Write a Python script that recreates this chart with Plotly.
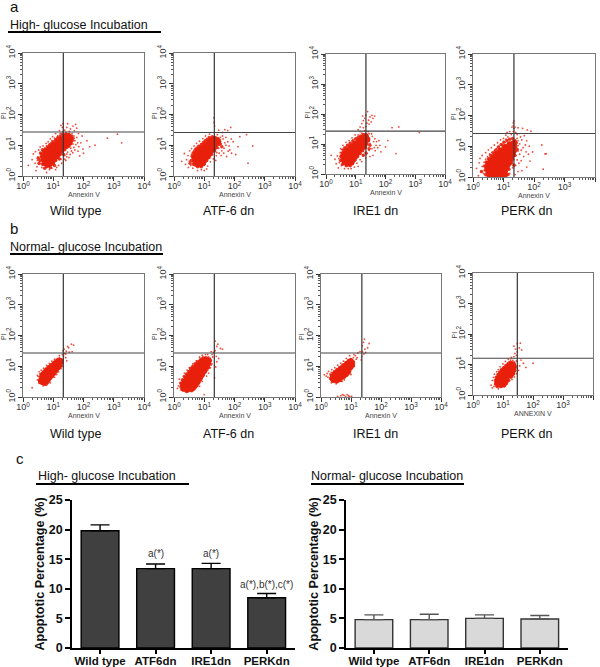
import plotly.graph_objects as go

W, H = 600, 667
RED = "#e8200c"

# ---------- flow cytometry data (Annexin V, PI) ----------
A1_CORE = [(5.5,2.6),(7,2.4),(8.5,2.7),(5,3.3),(6.3,3.1),(8,3.2),(10,3.4),(4.8,4.1),(6,4),(7.8,4.2),(9.8,4.1),(12,4.3),(5.6,5.1),(7.2,5.2),(9,5),(11.5,5.3),(14,5.2),(6.5,6.4),(8.4,6.2),(10.5,6.5),(13,6.3),(16.5,6.6),(8,7.8),(10,8),(12.6,8.2),(16,8),(19.5,8.3),(10.5,9.8),(13,10.2),(16.5,10),(21,10.3),(26,10),(14,12.6),(17.5,12.4),(21.5,13),(27,12.5),(33,12),(18,15.5),(23,16),(29,15.8),(36,15),(25,19.5),(31,19)]
A1_MID = [(3.6,3.2),(4,4.2),(4.2,5.3),(4.8,6.6),(5.5,7.6),(6.5,8.8),(7.5,10),(8.8,11.5),(10,13),(12,15),(14,17.5),(17,20),(20,23),(10,2.6),(12,3.2),(14.5,4),(17,5),(20,6.2),(24,7.2),(28,8.5),(33,9.5),(38,11.5),(42,14),(6,2),(8,1.9),(4.4,2.4),(45,17),(40,20),(34,22),(28,22.5),(3.4,2.6),(3.2,3.8),(3.8,5.6),(4.4,7.2),(11,2.2),(16,3.6),(22,5),(5.2,1.8)]
A1_FRINGE = [(3,3.2),(3.4,2.4),(3.8,5),(4.2,1.9),(4.5,6.3),(5.2,8),(6,9.5),(7.5,11),(2.2,5.2),(2.7,1.5),(3.1,4.2),(9,14),(11,17),(14,20),(17,24),(21,28),(12,1.6),(15,2.2),(9,1.8),(18,3.5),(24,4.6),(30,6),(38,8),(45,11),(52,14),(60,18),(42,24),(34,28),(24,31),(28,38),(37,34),(45,42),(55,48),(60,36),(50,30),(30,50),(20,38),(21,50),(18,44),(616,17),(1320,23),(1830,12),(240,10),(100,5.5),(130,14),(90,20),(160,9),(75,4.5),(70,9),(1.5,2.2),(2,3.4),(6,1.3),(7.5,1.6),(26,3.2),(33,4),(44,5.7),(48,8.5),(56,10.5),(40,6.5),(34,9),(43,17),(38,21),(32,24),(12,24),(16,30),(22,7),(28,5.2),(2.5,2.6),(2.6,6.2),(2.9,2),(3.3,7),(3.7,8.8),(4.6,9.5),(5.8,11.5),(6.8,13),(8,16),(9.5,19),(13,1.9),(19,2.6),(24,3.5),(28,4.2),(36,5),(52,7),(64,12),(68,24),(48,20),(26,26),(66,6.4),(82,12),(96,7.5)]

A2_CORE = [(5.5,2.5),(7,2.4),(8.8,2.6),(5,3.2),(6.3,3),(8,3.1),(10,3.3),(4.8,4),(6,4),(7.8,4.1),(9.8,4),(12,4.2),(5.4,5),(7,5.1),(8.8,5),(11,5.2),(13.5,5),(6.4,6.3),(8.2,6.1),(10.4,6.4),(13,6.2),(16,6.4),(8,7.9),(10,8),(12.6,8),(16,7.9),(20,8.2),(11,10),(14,10),(17.5,10),(22,10),(15,12.6),(19,12.4),(24,12.5),(18,14.5),(22,15),(28,13.5)]
A2_MID = [(3.7,3.2),(4,4.4),(4.3,5.6),(4.9,6.8),(5.6,8),(6.6,9.2),(8,10.6),(9.4,12.4),(11,14.2),(13,16),(15.5,17.6),(19,18.5),(23,18),(28,16.5),(32,13.5),(30,10.5),(26,8.5),(22,6.5),(17.5,5),(14.5,4),(12,3.2),(10,2.5),(8,2),(6,2),(4.4,2.4),(34,11),(38,9),(3.4,2.6)]
A2_FRINGE = [(3.2,3),(3.6,2.2),(3.8,5),(4.2,1.8),(4.4,6.2),(5,7.8),(2.2,5.4),(2.6,3.4),(3,1.9),(6.4,9.4),(8,11),(10,13.5),(12,16),(14,19),(18,20),(8,1.6),(10,1.5),(13,2.1),(16,2.9),(20,3.6),(25,4.6),(31,5.5),(38,6.6),(45,8),(52,10),(60,13),(42,16),(34,18),(70,7),(30,8),(33,11),(48,12),(26,5.8),(21,78),(21,55),(22,42),(48,32),(60,30),(75,38),(40,26),(30,31),(250,22),(400,9.5),(280,2.6),(150,19),(110,5),(130,9),(90,13),(80,5.5),(55,4.3),(1.8,3),(2.4,2.4),(2.9,4.6),(3.3,6.6),(3.8,7.8),(4.6,9.5),(5.6,11.5),(7,13.5),(9,16.5),(11,20),(15,23),(6,1.5),(12,1.7),(24,3.2),(36,4.6),(44,5.5),(62,6.4),(66,9.5),(78,16),(52,18),(40,20),(27,22)]

A3_CORE = [(4.4,2.5),(5.6,2.3),(7,2.4),(4,3),(5,3),(6.3,3),(8,3.1),(3.8,3.8),(4.8,3.8),(6,3.9),(7.6,3.9),(9.6,4),(4.3,4.8),(5.5,4.9),(7,4.9),(8.8,5),(11,5),(5,6.1),(6.5,6.2),(8.2,6.2),(10.4,6.3),(13,6.2),(7,7.8),(8.8,8),(11,7.9),(14,8),(17,8),(9.6,10),(12,10),(15,10),(19,10),(13,12.4),(16,12.6),(20,12.4),(16,15),(20,15.5),(24,14),(21,18)]
A3_MID = [(3.1,2.8),(3.2,3.9),(3.5,5),(3.9,6.4),(4.6,7.6),(5.4,9),(6.6,10.6),(8,12.6),(9.8,14.6),(12,16.6),(14.5,18.5),(18,20.5),(24,18),(26,13),(24,10),(21,7.6),(17,6),(14,4.8),(11.5,3.8),(9.6,3),(8,2.4),(6.5,1.9),(4.8,1.9),(3.6,2.1),(30,9),(28,7),(22,5),(18,4.2)]
A3_FRINGE = [(2.4,4),(2.8,2.4),(3,5.2),(3.3,1.9),(3.4,6.5),(4,7.8),(2,3.1),(1.5,4.2),(5,9.4),(6.2,11),(8,13.5),(10,16),(12,20),(16,23),(7,1.5),(9,1.7),(11,2.3),(14,3),(18,4),(24,4.8),(30,3.8),(38,4.2),(45,6),(55,7.5),(65,9),(70,5.5),(48,9),(35,7),(30,10.5),(40,12),(28,6.2),(14,37),(16,48),(18,60),(20,72),(22,91),(24,50),(27,62),(30,80),(33,55),(38,72),(43,85),(17,85),(22,38),(25,120),(166,35),(280,37),(1370,24),(225,4.8),(120,13),(100,8),(36,18),(28,22),(60,13),(12,30),(14,26),(2.6,1.6),(4.2,1.5),(2.2,2.2),(2.7,3.3),(3.1,7),(3.7,9),(4.7,11.4),(6,13),(7.5,16),(9.5,20),(5.6,1.5),(12,1.8),(16,2.6),(22,3.4),(42,7.6),(50,12),(44,15),(34,22),(26,26),(20,28),(18,35),(28,46),(35,90)]

A4_CORE = [(3.5,1.2),(4.5,1.1),(5.6,1.2),(7,1.1),(8.8,1.2),(11,1.2),(3.2,1.6),(4.2,1.6),(5.4,1.6),(6.8,1.6),(8.6,1.5),(11,1.6),(3,2.1),(3.9,2.1),(5,2),(6.3,2.1),(8,2),(10,2.1),(12.6,2.1),(3.2,2.7),(4.2,2.7),(5.5,2.6),(7,2.7),(9,2.6),(11.5,2.7),(14,2.7),(3.9,3.5),(5,3.4),(6.4,3.5),(8,3.4),(10,3.5),(12.6,3.4),(16,3.4),(4.8,4.4),(6.2,4.4),(8,4.5),(10,4.4),(13,4.5),(17,4.4),(6,5.6),(8,5.7),(10,5.6),(13,5.7),(17,5.6),(20,5.6),(8,7.2),(10,7.3),(13,7.2),(17,7.3),(20,7.2),(11,9.2),(14,9.3),(17.5,9.2),(21,9.4),(16,11.3),(20,11.5),(22,12.6)]
A4_MID = [(2.6,1.2),(2.5,1.7),(2.4,2.3),(2.7,3.1),(3.2,3.9),(3.8,5),(4.6,6.2),(5.6,7.6),(6.8,9.4),(8.4,11.4),(10.4,13.4),(13,15.5),(16,17),(20,18),(14,1.2),(15,1.8),(18,2.8),(20,3.8),(23,5),(25,7),(25,10),(26,13),(24,15),(28,8),(22,2.4),(1.9,1.5)]
A4_FRINGE = [(1.5,1.1),(1.8,1.5),(2,2.2),(2.2,1.3),(2.3,3),(2.6,3.8),(1.6,2.9),(1.3,1.9),(2.7,1.1),(3,4.6),(3.5,5.6),(4.2,6.3),(5,7.2),(6,8.3),(7.2,10),(8.8,11.6),(10,14),(12,17),(14,20),(18,24),(21,30),(22,38),(21,46),(21,57),(22,67),(19,42),(24,42),(30,40),(42,38),(60,34),(80,31),(16,30),(25,28),(28,18),(30,15),(34,12),(40,16),(48,22),(26,9),(30,7),(34,5.5),(28,3.6),(32,2.8),(25,2.4),(38,3.4),(46,4.6),(55,6.6),(66,5.5),(74,3.3),(58,2.1),(40,1.6),(30,1.5),(24,1.2),(16,1.3),(230,5.6),(250,5.7),(180,11),(200,1.8),(44,9),(38,7.4),(52,11),(26,5),(1.7,4),(2,5),(2.6,6.2),(3.2,7.6),(4,9),(5,11),(6.4,13),(8,16),(10,18),(12,23),(20,2),(30,10.5),(36,20),(58,15),(70,10),(90,6.5),(28,24),(13,28)]

B1_CORE = [(4,3.3),(5,3),(5.8,3.4),(4.4,3.9),(5.4,4),(6.6,4),(4.6,4.9),(5.6,4.9),(6.8,5),(8,4.9),(5.4,5.8),(6.6,6),(8,6),(9.4,6),(6.4,7.2),(7.8,7.2),(9.2,7.2),(11,7.2),(7.8,8.6),(9.4,8.6),(11,8.7),(12.6,8.6),(9.6,10.2),(11.4,10.3),(13.4,10.2),(15,10),(12,12.2),(14,12.4),(16,12),(15,14.4),(17,14.5)]
B1_MID = [(3.6,3.6),(3.8,4.6),(4.2,5.8),(4.9,6.8),(5.7,8),(6.8,9.4),(8.2,10.8),(9.8,12.4),(11.6,14),(13.4,16),(16,17),(18,13),(17.5,10.6),(15,8.4),(13,7),(11,5.6),(9.2,4.6),(7.6,3.8),(6.6,3),(5.2,2.6),(4.2,2.8)]
B1_FRINGE = [(3,3.6),(3.4,2.8),(3.2,4.6),(3.6,5.6),(4,2.7),(5.2,2.5),(6.4,2.6),(7.6,3.2),(8.6,3.9),(10,4.6),(11,5.6),(13,6.8),(14.6,8.2),(16.4,9.8),(18,11.6),(19,13.6),(4.4,6.5),(5,7.5),(5.8,8.6),(7,10),(8.6,11.6),(10,13.4),(12,15.6),(14,17.6),(2,2),(16,22),(20,24),(22,21),(24,26),(27,31),(23,36),(32,40),(40,52),(47,49),(42,30),(34,29),(26,19),(28,15),(21,16),(30,44),(3,5),(3.4,6.6),(4,7.4),(4.8,8.6),(6,10.6),(7.4,12.4),(9,14.6),(11,17),(4.6,2.3),(6,2.4),(8,2.9),(11,4.4),(13,5.4),(15,6.6),(18,8.4),(20,10),(21,12.4),(19,17.5),(16,19),(26,25),(21,32)]

B2_CORE = [(2.1,1.9),(2.7,1.8),(3.4,1.9),(4.2,2),(2,2.5),(2.6,2.5),(3.3,2.5),(4.1,2.6),(5.2,2.6),(2.3,3.2),(3,3.2),(3.8,3.3),(4.7,3.2),(6,3.2),(2.7,4),(3.4,4.1),(4.3,4),(5.4,4.1),(6.8,4),(3.2,5.1),(4,5),(5,5.1),(6.2,5.1),(7.6,5),(3.8,6.4),(4.7,6.3),(5.8,6.4),(7.2,6.4),(8.6,6.3),(4.6,8),(5.6,8),(7,8),(8.4,8),(10,8),(5.8,10),(7,10),(8.6,10),(10.4,10),(12,10),(7.6,12.5),(9.2,12.5),(11,12.5),(13,12.3),(9,15.5),(11,15.5),(13.5,15)]
B2_MID = [(1.7,2.1),(1.7,2.8),(1.9,3.6),(2.2,4.6),(2.6,5.6),(3.1,6.8),(3.6,8.4),(4.2,10),(5,12),(6,14),(7.4,16),(9.5,18.5),(12,18.5),(15,17),(15,12.5),(13,8.8),(11,6.8),(9.4,5.2),(7.8,4),(6.4,2.9),(5.2,2.1),(3.8,1.6),(2.6,1.5),(16,15)]
B2_FRINGE = [(1.4,2.3),(1.6,3),(1.7,1.7),(1.9,3.8),(2.1,4.6),(2.5,5.4),(3,6.7),(3.4,8),(4,9.6),(4.8,11.4),(5.6,13),(6.5,15),(7.4,18),(9,20),(11,20),(14,20),(16,18),(16,14),(17,11),(15,8.8),(13,7.4),(11,6),(9.4,4.6),(7.8,3.6),(6.6,2.7),(5.4,2.1),(4.3,1.6),(3,1.5),(2,1.6),(10,1.2),(18,24),(20,28),(23,32),(25,21),(26,44),(28,52),(23,66),(34,38),(40,36),(26,14),(24,9.5),(22,4.2),(30,18),(17,30),(1.3,1.9),(1.5,3.8),(2.2,6),(2.7,7.4),(3.2,9),(4.2,12),(5.4,15),(7,20),(8.5,23),(11,24),(13,24),(19,20),(18,12),(16,9),(14,6),(12,4.8),(8.6,3.2),(7,2.2)]

B3_CORE = [(2.5,3.9),(3.1,3.7),(3.8,3.8),(2.6,4.7),(3.2,4.6),(3.9,4.6),(4.8,4.6),(3,5.6),(3.7,5.6),(4.5,5.6),(5.5,5.6),(6.6,5.6),(3.7,6.8),(4.5,6.8),(5.5,6.8),(6.6,6.7),(7.8,6.6),(4.7,8.2),(5.7,8.2),(6.9,8.2),(8.2,8.2),(6.2,10),(7.3,10),(8.6,10),(9.8,10.2),(8,12),(9.4,12),(10.6,12),(9.6,14)]
B3_MID = [(2.1,4),(2.2,5),(2.6,5.9),(3.1,6.8),(3.8,8),(4.6,9.4),(5.6,11),(6.8,13),(8.2,15),(10,16.5),(11.6,14.5),(12,11),(10.4,8.8),(9,7),(7.4,5.6),(6,4.4),(4.6,3.6),(3.4,3.1),(2.5,3.2)]
B3_FRINGE = [(1.3,5.3),(1.6,5.8),(1.7,4.4),(2,4),(2,5.6),(2.2,6.3),(2.4,3.2),(2.9,3),(3.6,3.1),(4.4,3.3),(5.4,3.9),(6.5,4.6),(7.8,5.4),(9,6.6),(10.4,8),(11.6,9.6),(12.6,11.4),(13,13.6),(2.7,7.2),(3.3,8.4),(4,9.6),(5,11.4),(6.4,13.6),(7.8,15.5),(9.4,17),(11,16),(12,19),(14,22),(16,19),(15,17),(12.6,24),(17,27),(20,30),(23,21),(24,30),(27,25),(31,28),(29,36),(24,46),(26,60),(28,76),(36,40),(40,55),(22,16),(4.6,1.1),(5.2,1.2),(5.8,1.15),(6.6,1.05),(7.4,1.2),(8.2,1.1),(9,1.05),(3.6,1.05),(10.5,1.05),(1.5,4.8),(1.8,6.8),(2.3,7.8),(2.9,9),(3.6,10.8),(4.5,12.6),(5.6,14.6),(7,18),(9,22),(2.2,2.9),(3.2,2.7),(5,3.2),(6,3.6),(10,5.4),(13,10)]

B4_CORE = [(7,2.3),(8.6,2.2),(10.4,2.3),(6.8,2.9),(8.4,2.9),(10,2.9),(12,2.9),(7.4,3.6),(9,3.6),(11,3.6),(13,3.6),(8.6,4.5),(10.4,4.5),(12.6,4.5),(15,4.5),(17.5,4.6),(10,5.6),(12,5.6),(14.6,5.6),(17,5.6),(20,5.6),(12.6,7),(15,7),(18,7),(21,7),(16,8.6),(19,8.6),(22,8.4),(20,10)]
B4_MID = [(5.6,2.3),(5.6,3),(6,3.8),(6.8,4.7),(7.8,5.7),(9,6.8),(10.6,8),(12.6,9.2),(15,10.6),(18,11.6),(23,11),(25,8.4),(25,6.4),(22,4.8),(18.5,3.8),(15.5,3),(13,2.4),(11,2),(8.4,1.9),(6.4,1.9)]
B4_FRINGE = [(4,2.1),(5,1.9),(5.4,2.6),(5.6,3.4),(6,1.9),(6,4),(6.8,4.8),(7.6,5.6),(8.4,6.6),(10,7.8),(12,9.4),(14,11),(16,12.6),(18,14),(9,1.8),(11,1.9),(13.5,2.5),(15,3.3),(17,3.8),(20,4.4),(23,5.3),(25,6.6),(26,8.2),(26,10),(24,12),(21,13.5),(19,17),(23,18),(25,23),(28,20),(26,32),(23,40),(30,26),(30,48),(35,35),(38,50),(42,30),(40,14),(36,9),(48,11),(58,8),(100,11),(4.4,1.7),(28,13),(33,6.4),(4.4,3),(4.8,3.8),(5.2,4.8),(6.2,5.8),(7,6.8),(8,8.4),(10,10.4),(12,12.6),(15,15),(7,1.6),(20,3.2),(24,3.9),(28,5),(30,9),(30,7.6)]

FLOW_CORES = [A1_CORE, A2_CORE, A3_CORE, A4_CORE, B1_CORE, B2_CORE, B3_CORE, B4_CORE]
FLOW_MIDS = [A1_MID, A2_MID, A3_MID, A4_MID, B1_MID, B2_MID, B3_MID, B4_MID]
FLOW_FRINGES = [A1_FRINGE, A2_FRINGE, A3_FRINGE, A4_FRINGE, B1_FRINGE, B2_FRINGE, B3_FRINGE, B4_FRINGE]
GATE_X = [21.5, 21.5, 22, 22, 21.5, 21.5, 23, 30]
GATE_Y = [27, 26, 27, 26, 27, 27, 27, 16]
X_TITLES = ["Annexin V"] * 7 + ["ANNEXIN V"]
FLOW_TICKS = [1, 10, 100, 1000, 10000]
FLOW_TICK_TEXT = ["10<sup>0</sup>", "10<sup>1</sup>", "10<sup>2</sup>", "10<sup>3</sup>", "10<sup>4</sup>"]
FLOW_MINOR = [2,3,4,5,6,7,8,9,20,30,40,50,60,70,80,90,200,300,400,500,600,700,800,900,2000,3000,4000,5000,6000,7000,8000,9000]

# ---------- bar data ----------
GROUPS = ["Wild type", "ATF6dn", "IRE1dn", "PERKdn"]
HIGH_VALUES = [19.8, 13.4, 13.4, 8.5]
HIGH_ERRORS = [1.0, 0.8, 0.9, 0.7]
NORMAL_VALUES = [4.8, 4.8, 5.0, 4.9]
NORMAL_ERRORS = [0.8, 0.9, 0.6, 0.6]
HIGH_MARKS = ["", "a(*)", "a(*)", "a(*),b(*),c(*)"]
HIGH_MARK_Y = [0, 15.9, 15.9, 10.7]

# ---------- layout in pixels ----------
PANELS = [(23,144,53,176),(174,295,53,176),(326,445,54,174),(473,595,54,177),
          (23,144,274,397),(174,295,274,397),(321,441,274,397),(473,593,273,395)]
BAR_PANELS = [(72,295,500,648),(346,568,500,648)]

def fx(px): return px / W
def fy(py): return 1 - py / H

fig = go.Figure()
layout = dict(width=W, height=H, margin=dict(l=0, r=0, t=0, b=0, autoexpand=False), paper_bgcolor="white",
              plot_bgcolor="white", showlegend=False,
              font=dict(family="Liberation Sans, Arial, sans-serif", color="#222"))

def ptext(x, y, text, size, anchor="left", color="#111", angle=0):
    return dict(xref="paper", yref="paper", x=fx(x), y=fy(y), text=text, showarrow=False,
                xanchor=anchor, yanchor="middle", textangle=angle, font=dict(size=size, color=color))

ann = []
for i, (x0, x1, y0, y1) in enumerate(PANELS):
    n = i + 1
    xa, ya = ("x%d" % n, "y%d" % n)
    for pts, size, op in ((FLOW_FRINGES[i], 1.8, 0.8), (FLOW_MIDS[i], 3.5, 0.9), (FLOW_CORES[i], 6.5, 1)):
        fig.add_trace(go.Scatter(x=[p[0] for p in pts], y=[p[1] for p in pts], mode="markers",
                                 xaxis=xa, yaxis=ya,
                                 marker=dict(color=RED, size=size, opacity=op, line=dict(width=0))))
    fig.add_trace(go.Scatter(x=[GATE_X[i], GATE_X[i]], y=[1, 10000], mode="lines", xaxis=xa, yaxis=ya,
                             line=dict(color="#333", width=1.2)))
    fig.add_trace(go.Scatter(x=[1, 10000], y=[GATE_Y[i], GATE_Y[i]], mode="lines", xaxis=xa, yaxis=ya,
                             line=dict(color="#444", width=1.2)))
    common = dict(type="log", range=[0, 4], tickmode="array", tickvals=FLOW_TICKS, ticktext=FLOW_TICK_TEXT,
                  showgrid=False, zeroline=False, showline=True, mirror=True,
                  linecolor="#777", linewidth=1.2, ticks="outside", ticklen=3.5, tickwidth=0.8,
                  tickcolor="#333", tickfont=dict(size=9, color="#333"),
                  minor=dict(tickmode="array", tickvals=FLOW_MINOR, ticks="outside", ticklen=2,
                             tickwidth=0.5, tickcolor="#555", showgrid=False))
    layout["xaxis%d" % n] = dict(common, domain=[fx(x0), fx(x1)], anchor=ya, tickangle=0, ticklabelstandoff=-2)
    layout["yaxis%d" % n] = dict(common, domain=[fy(y1), fy(y0)], anchor=xa, tickangle=-90)
    ann.append(ptext((x0 + x1) / 2, y1 + 18.5, X_TITLES[i], 7, "center", "#444"))
    ann.append(ptext(x0 - 19.5, (y0 + y1) / 2 + 1, "PI", 7, "center", "#444", -90))

BAR_SETS = [(HIGH_VALUES, HIGH_ERRORS, "#404040", "#000000", "#000000"),
            (NORMAL_VALUES, NORMAL_ERRORS, "#d9d9d9", "#333333", "#555555")]
for j, (vals, errs, fill, edge, ecol) in enumerate(BAR_SETS):
    n = 9 + j
    xa, ya = "x%d" % n, "y%d" % n
    x0, x1, y0, y1 = BAR_PANELS[j]
    fig.add_trace(go.Bar(x=GROUPS, y=vals, xaxis=xa, yaxis=ya, width=0.68,
                         marker=dict(color=fill, line=dict(color=edge, width=1.4)),
                         error_y=dict(type="data", array=errs, arrayminus=[0]*4, symmetric=False,
                                      color=ecol, thickness=1.4, width=9.5)))
    bold = dict(size=11.5, color="#111", family="Liberation Sans, Arial, sans-serif", weight="bold")
    bold_y = dict(bold, size=12.5)
    layout["xaxis%d" % n] = dict(domain=[fx(x0), fx(x1)], anchor=ya, type="category", range=[-0.505, 3.51],
                                 showline=True, linecolor="black", linewidth=1.5, ticks="outside", ticklen=4,
                                 tickwidth=1.5, tickcolor="black", tickfont=bold, showgrid=False, zeroline=False,
                                 tickangle=0, ticklabelstandoff=-3)
    layout["yaxis%d" % n] = dict(domain=[fy(y1), fy(y0)], anchor=xa, range=[0, 25], tick0=0, dtick=5,
                                 showline=True, linecolor="black", linewidth=1.5, ticks="outside", ticklen=5,
                                 tickwidth=1.5, tickcolor="black", tickfont=bold_y, showgrid=False, zeroline=False,
                                 title=dict(text="Apoptotic Percentage (%)", font=dict(size=12.6, color="#111", weight="bold"),
                                            standoff=1))

ann += [ptext(8, 7, "a", 15), ptext(8, 228, "b", 15), ptext(14, 458, "c", 15),
        ptext(8, 25, "High- glucose Incubation", 12.5), ptext(8, 247, "Normal- glucose Incubation", 12.5),
        ptext(36, 476, "High- glucose Incubation", 12.5), ptext(309, 476, "Normal- glucose Incubation", 12.5)]
CAPTION_TEXT = ["Wild type", "ATF-6 dn", "IRE1 dn", "PERK dn"]
for cx, label in zip([75, 228, 375, 526], CAPTION_TEXT):
    ann.append(ptext(cx, 211, label, 12.5, "center"))
    ann.append(ptext(cx, 434, label, 12.5, "center"))
for g, m, my in zip(GROUPS, HIGH_MARKS, HIGH_MARK_Y):
    if m:
        ann.append(dict(xref="x9", yref="y9", x=g, y=my, text=m, showarrow=False,
                        font=dict(size=10, color="#333"), yanchor="middle"))
layout["annotations"] = ann

rules = [(8,161,32),(10,163,254),(36,189,484),(311,464,484)]
layout["shapes"] = [dict(type="line", xref="paper", yref="paper", x0=fx(a), x1=fx(b), y0=fy(y), y1=fy(y),
                         line=dict(color="black", width=2)) for a, b, y in rules]
fig.update_layout(**layout)
fig.write_html("out.html", config=dict(displayModeBar=False), post_script="document.body.style.margin='0';")
